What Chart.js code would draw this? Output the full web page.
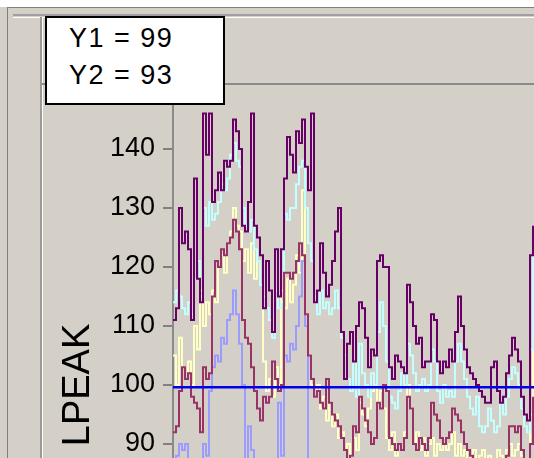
<!DOCTYPE html>
<html>
<head>
<meta charset="utf-8">
<script src="https://cdn.jsdelivr.net/npm/chart.js@4"></script>
<style>
  html, body { margin: 0; padding: 0; background: #d4d0c8; overflow: hidden; }
  #wrap { position: relative; width: 534px; height: 458px; overflow: hidden; background: #d4d0c8; }
  #chart { position: absolute; left: 0; top: 0; }
  .ln { position: absolute; }
  #readout {
    position: absolute; left: 45px; top: 16px; width: 180px; height: 89px;
    background: #fff; border: 2px solid #000;
    font-family: "Liberation Sans", Arial, sans-serif; font-size: 27px; line-height: 37px;
    letter-spacing: 1.5px;
    color: #000; padding: 2px 0 0 22px; box-sizing: border-box; white-space: pre;
  }
</style>
</head>
<body>
<div id="wrap">
  <div class="ln" style="left:0;top:0;width:534px;height:7px;background:#fff"></div>
  <div class="ln" style="left:7px;top:7px;width:527px;height:1px;background:#808080"></div>
  <div class="ln" style="left:7px;top:7px;width:1px;height:451px;background:#808080"></div>
  <div class="ln" style="left:13px;top:14px;width:521px;height:2px;background:#a0a0a0"></div>
  <div class="ln" style="left:13px;top:17px;width:521px;height:1px;background:#fff"></div>
  <canvas id="chart" width="534" height="716"></canvas>
  <div class="ln" style="left:40px;top:17px;width:2px;height:441px;background:#9a9a9a"></div>
  <div class="ln" style="left:42px;top:17px;width:1px;height:441px;background:#fff"></div>
  <div class="ln" style="left:42px;top:83px;width:492px;height:2px;background:#8a8a8a"></div>
  <div id="readout">Y1 = 99
Y2 = 93</div>
</div>
<script>
// one value every 3 px along the trace, left to right
const lpeakMax = [111, 113, 130, 124, 126, 123, 111, 135, 118, 114,
  146, 139, 146, 131, 133, 136, 133, 138, 137, 138,
  145, 143, 140, 127, 126, 131, 146, 127, 125, 122,
  113, 121, 116, 109, 123, 115, 123, 135, 142, 139,
  136, 143, 141, 145, 137, 133, 146, 114, 116, 124,
  119, 115, 117, 121, 126, 130, 109, 101, 107, 109,
  104, 110, 114, 113, 108, 103, 106, 105, 121, 122,
  120, 120, 103, 101, 105, 104, 103, 102, 117, 114,
  110, 107, 108, 103, 104, 104, 112, 111, 104, 102,
  104, 103, 106, 104, 109, 115, 110, 106, 103, 102,
  101, 100, 99, 98, 97, 97, 103, 104, 99, 97,
  98, 102, 105, 108, 106, 104, 98, 95, 94, 122, 127];

const lpeakCyan = [114, 116, 115, 113, 112, 114, 112, 118, 121, 115,
  130, 127, 131, 128, 129, 131, 134, 133, 135, 139,
  141, 138, 137, 130, 127, 126, 128, 123, 121, 117,
  115, 113, 111, 108, 116, 113, 114, 129, 128, 130,
  130, 134, 137, 138, 130, 124, 121, 115, 112, 116,
  113, 114, 112, 113, 116, 113, 108, 105, 101, 99,
  104, 98, 107, 102, 100, 98, 102, 100, 109, 114,
  110, 104, 98, 97, 96, 99, 102, 100, 107, 105,
  102, 99, 100, 101, 99, 100, 106, 104, 99, 97,
  100, 98, 99, 98, 104, 107, 104, 101, 98, 96,
  95, 98, 93, 92, 93, 96, 94, 92, 93, 97,
  95, 98, 101, 103, 102, 100, 96, 93, 92, 106, 122];

const lpeakYellow = [105, 100, 108, 103, 101, 104, 100, 110, 106, 116,
  110, 114, 112, 116, 114, 120, 122, 119, 124, 126,
  130, 127, 126, 121, 123, 119, 124, 118, 121, 117,
  104, 99, 101, 98, 103, 100, 116, 113, 118, 114,
  117, 122, 119, 133, 112, 105, 100, 98, 100, 96,
  98, 94, 97, 93, 95, 91, 92, 89, 90, 88,
  91, 89, 97, 95, 93, 96, 99, 100, 97, 99,
  96, 91, 89, 92, 88, 90, 89, 92, 100, 96,
  90, 92, 89, 91, 88, 90, 91, 88, 90, 89,
  91, 89, 90, 92, 88, 90, 88, 89, 87, 88,
  89, 87, 88, 89, 87, 88, 86, 87, 89, 88,
  87, 89, 90, 88, 89, 90, 88, 86, 87, 95, 108];

const lpeakMaroon = [92, 93, 99, 103, 101, 102, 98, 97, 96, 92,
  103, 101, 102, 115, 121, 120, 123, 122, 124, 125,
  128, 126, 123, 111, 108, 107, 103, 99, 96, 94,
  98, 97, 98, 104, 101, 99, 100, 119, 119, 118,
  119, 121, 124, 122, 112, 105, 101, 98, 99, 97,
  96, 101, 97, 95, 94, 93, 91, 89, 87, 88,
  93, 92, 98, 96, 94, 92, 90, 91, 97, 96,
  100, 99, 91, 90, 89, 90, 89, 91, 98, 96,
  90, 89, 91, 90, 89, 91, 97, 95, 94, 91,
  90, 91, 92, 96, 95, 94, 92, 90, 89, 88,
  87, 86, 86, 86, 86, 86, 86, 86, 86, 86,
  86, 88, 93, 93, 92, 93, 89, 87, 86, 90, 98];

const lpeakBlue = [86, 88, 90, 89, 90, 87, 86, 86, 86, 87,
  90, 88, 99, 103, 105, 104, 108, 107, 111, 112,
  116, 112, 107, 100, 86, 93, 89, 86, 80, 80,
  80, 80, 80, 80, 80, 97, 88, 105, 104, 107,
  106, 110, 115, 121, 110, 86, 80, 80, 80, 80,
  80, 80, 80, 80, 80, 80, 80, 80, 80, 80,
  80, 80, 80, 80, 80, 80, 80, 80, 80, 80,
  80, 80, 80, 80, 80, 80, 80, 80, 80, 80,
  80, 80, 80, 80, 80, 80, 80, 80, 80, 80,
  80, 80, 80, 80, 80, 80, 80, 80, 80, 80,
  80, 80, 80, 80, 80, 80, 80, 80, 80, 80,
  80, 80, 80, 80, 80, 80, 80, 80, 80, 80, 80];

const limitValue = 99.6;
const yTicks = [50, 60, 70, 80, 90, 100, 110, 120, 130, 140, 150];

const xMax = 120.33;
const pts = arr => arr.map((v, i) => ({x: i, y: v}));
const trace = (data, color) => ({
  data: pts(data),
  borderColor: color,
  borderWidth: 2,
  pointRadius: 0,
  stepped: true,
  fill: false
});

new Chart(document.getElementById('chart'), {
  type: 'line',
  data: {
    datasets: [
      {
        data: [{x: 0, y: limitValue}, {x: xMax, y: limitValue}],
        borderColor: '#0000f0',
        borderWidth: 2.5,
        pointRadius: 0
      },
      trace(lpeakMax, '#660066'),
      trace(lpeakMaroon, '#993366'),
      trace(lpeakBlue, '#9c9cff'),
      trace(lpeakCyan, '#c4ffff'),
      trace(lpeakYellow, '#ffffc4')
    ]
  },
  options: {
    responsive: false,
    animation: false,
    devicePixelRatio: 1,
    layout: {padding: {left: 0, right: 0, top: 84, bottom: 30}},
    plugins: {legend: {display: false}, tooltip: {enabled: false}},
    scales: {
      x: {type: 'linear', min: 0, max: xMax, display: false},
      y: {
        min: 49,
        max: 151,
        afterFit: s => { s.width = 173; },
        afterBuildTicks: s => { s.ticks = yTicks.map(v => ({value: v})); },
        ticks: {
          color: '#000',
          padding: 8,
          font: {family: 'Liberation Sans', size: 27}
        },
        grid: {drawOnChartArea: false, tickLength: 10, color: '#808080', lineWidth: 2},
        border: {color: '#8a8a8a', width: 2},
        title: {
          display: true,
          text: 'LPEAK',
          color: '#000',
          font: {family: 'Liberation Sans', size: 38},
          padding: {top: 56, bottom: 0}
        }
      }
    }
  }
});
</script>
</body>
</html>
